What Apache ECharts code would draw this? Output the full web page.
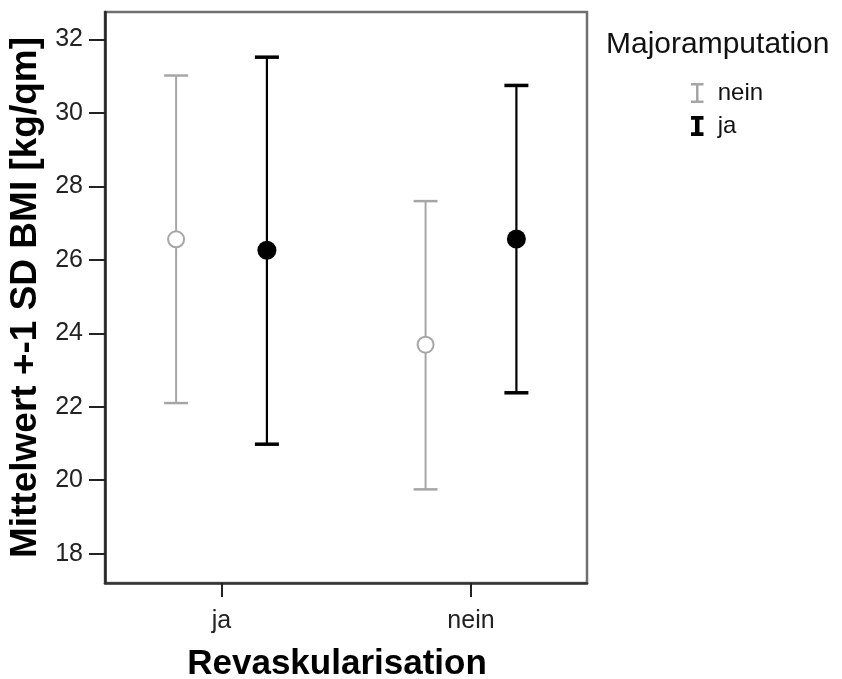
<!DOCTYPE html>
<html>
<head>
<meta charset="utf-8">
<script src="https://cdn.jsdelivr.net/npm/echarts@6/dist/echarts.min.js"></script>
<style>
html,body{margin:0;padding:0;background:#fff;}
#chart{width:842px;height:679px;}
</style>
</head>
<body>
<div id="chart"></div>
<script>
// ---- data ----
const categories = ['ja', 'nein'];            // Revaskularisation
const groups = ['nein', 'ja'];                // Majoramputation
const meanNein = [26.56, 23.69];
const lowNein  = [22.10, 19.75];
const highNein = [31.02, 27.60];
const meanJa   = [26.26, 26.57];
const lowJa    = [20.98, 22.38];
const highJa   = [31.52, 30.75];
const yTicks = [18, 20, 22, 24, 26, 28, 30, 32];

// ---- layout / style ----
const FONT = '"Liberation Sans", Arial, sans-serif';
const DODGE = {nein: -0.182, ja: 0.182};
const COLORS = {nein: '#a6a6a6', ja: '#000000'};
const STEM = {nein: 2, ja: 2.2};
const CAP = {nein: 2.5, ja: 3.5};
const CAP_HALF = 12;

function errData(lows, highs, g) {
  return categories.map((c, i) => [i + DODGE[g], lows[i], highs[i]]);
}
function meanData(means, g) {
  return categories.map((c, i) => [i + DODGE[g], means[i]]);
}
function errRender(g) {
  return function (params, api) {
    const x = api.value(0), lo = api.value(1), hi = api.value(2);
    const pLo = api.coord([x, lo]);
    const pHi = api.coord([x, hi]);
    const st = {stroke: COLORS[g], lineWidth: STEM[g]};
    const ct = {stroke: COLORS[g], lineWidth: CAP[g]};
    return {
      type: 'group',
      children: [
        {type: 'line', shape: {x1: pLo[0], y1: pLo[1], x2: pHi[0], y2: pHi[1]}, style: st},
        {type: 'line', shape: {x1: pHi[0] - CAP_HALF, y1: pHi[1], x2: pHi[0] + CAP_HALF, y2: pHi[1]}, style: ct},
        {type: 'line', shape: {x1: pLo[0] - CAP_HALF, y1: pLo[1], x2: pLo[0] + CAP_HALF, y2: pLo[1]}, style: ct}
      ]
    };
  };
}

const chart = echarts.init(document.getElementById('chart'), null, {renderer: 'canvas'});
const option = {
  animation: false,
  backgroundColor: '#fff',
  textStyle: {fontFamily: FONT},
  title: {
    text: 'Majoramputation',
    left: 601, top: 25,
    textStyle: {fontFamily: FONT, fontSize: 30, fontWeight: 'normal', color: '#111'}
  },
  legend: {
    orient: 'vertical',
    left: 686, top: 76,
    itemWidth: 13, itemHeight: 20, itemGap: 9,
    textStyle: {fontFamily: FONT, fontSize: 24, color: '#111', padding: [0, 0, 0, 9]},
    data: [
      {name: 'nein', icon: 'path://M0,0H10V2H6V14H10V16H0V14H4V2H0Z', itemStyle: {color: COLORS.nein}},
      {name: 'ja', icon: 'path://M0,0H10V3H6.8V13H10V16H0V13H3.2V3H0Z', itemStyle: {color: COLORS.ja}}
    ]
  },
  grid: {
    left: 105, top: 12, width: 482, height: 571,
    outerBoundsMode: 'none', containLabel: false,
    show: true, borderColor: '#707070', borderWidth: 2.5, backgroundColor: '#fff'
  },
  xAxis: {
    type: 'value',
    min: -0.467, max: 1.465,
    splitLine: {show: false},
    axisLine: {show: true, onZero: false, lineStyle: {color: '#333', width: 2.5}},
    axisTick: {show: true, customValues: [0, 1], length: 14, lineStyle: {color: '#222', width: 2}},
    axisLabel: {
      customValues: [0, 1],
      formatter: v => categories[Math.round(v)],
      fontFamily: FONT, fontSize: 25, color: '#222', margin: 26
    },
    name: 'Revaskularisation',
    nameLocation: 'middle', nameGap: 64,
    nameTextStyle: {fontFamily: FONT, fontSize: 35, fontWeight: 'bold', color: '#000', padding: [0, 18, 0, 0]}
  },
  yAxis: {
    type: 'value',
    min: 17.2, max: 32.75,
    splitLine: {show: false},
    axisLine: {show: true, onZero: false, lineStyle: {color: '#222', width: 2.5}},
    axisTick: {show: true, customValues: yTicks, length: 16, lineStyle: {color: '#222', width: 2}},
    axisLabel: {
      customValues: yTicks,
      fontFamily: FONT, fontSize: 25, color: '#222', margin: 22
    },
    name: 'Mittelwert +-1 SD BMI [kg/qm]',
    nameLocation: 'middle', nameGap: 50, nameRotate: 90,
    nameTextStyle: {fontFamily: FONT, fontSize: 37, fontWeight: 'bold', color: '#000'}
  },
  series: [
    {
      name: 'nein', type: 'custom', renderItem: errRender('nein'),
      itemStyle: {color: COLORS.nein},
      encode: {x: 0, y: [1, 2]},
      data: errData(lowNein, highNein, 'nein'), z: 2
    },
    {
      name: 'ja', type: 'custom', renderItem: errRender('ja'),
      itemStyle: {color: COLORS.ja},
      encode: {x: 0, y: [1, 2]},
      data: errData(lowJa, highJa, 'ja'), z: 2
    },
    {
      name: 'mean nein', type: 'scatter', symbol: 'circle', symbolSize: 16,
      itemStyle: {color: '#fff', borderColor: COLORS.nein, borderWidth: 2, opacity: 1},
      data: meanData(meanNein, 'nein'), z: 3
    },
    {
      name: 'mean ja', type: 'scatter', symbol: 'circle', symbolSize: 19,
      itemStyle: {color: COLORS.ja, opacity: 1},
      data: meanData(meanJa, 'ja'), z: 3
    }
  ]
};
chart.setOption(option);
</script>
</body>
</html>
